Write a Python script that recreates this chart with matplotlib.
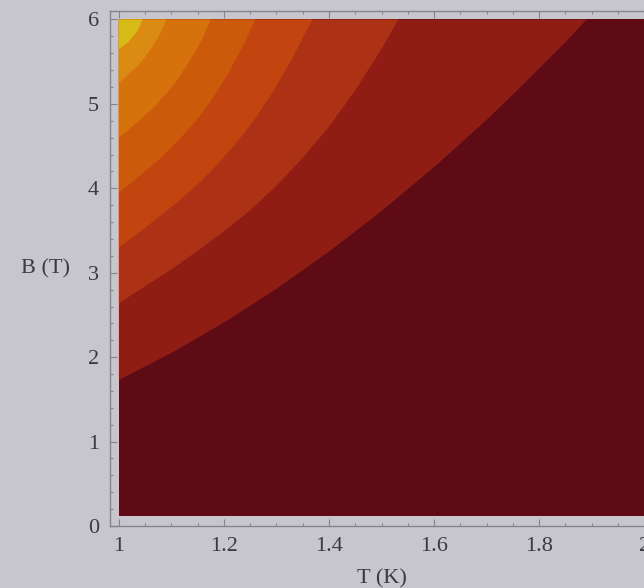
import matplotlib as mpl
mpl.use('Agg')
import matplotlib.pyplot as plt
from matplotlib.ticker import MultipleLocator

# contour boundaries, listed from the lowest level (bottom right) up to the
# top-left corner; each runs from the T = 1 edge up to the B = 6 edge
t_c1 = [1.00, 1.05, 1.10, 1.15, 1.20, 1.25, 1.30, 1.35, 1.40, 1.45,
        1.50, 1.55, 1.60, 1.65, 1.70, 1.75, 1.80, 1.85, 1.891]
b_c1 = [1.73, 1.89, 2.05, 2.23, 2.41, 2.61, 2.81, 3.03, 3.25, 3.49,
        3.73, 3.99, 4.25, 4.53, 4.81, 5.11, 5.42, 5.73, 6.00]

t_c2 = [1.00, 1.05, 1.10, 1.15, 1.20, 1.25, 1.30, 1.35, 1.40, 1.45, 1.50, 1.532]
b_c2 = [2.64, 2.84, 3.04, 3.26, 3.49, 3.74, 4.03, 4.36, 4.73, 5.16, 5.65, 6.00]

t_c3 = [1.000, 1.037, 1.074, 1.110, 1.147, 1.184, 1.221, 1.258, 1.294, 1.331, 1.368]
b_c3 = [3.30, 3.47, 3.65, 3.83, 4.03, 4.26, 4.52, 4.81, 5.15, 5.55, 6.00]

t_c4 = [1.000, 1.026, 1.052, 1.078, 1.104, 1.130, 1.156, 1.182, 1.208, 1.234, 1.260]
b_c4 = [3.95, 4.08, 4.21, 4.35, 4.51, 4.68, 4.87, 5.10, 5.36, 5.66, 6.00]

t_c5 = [1.000, 1.035, 1.070, 1.105, 1.140, 1.158, 1.175]
b_c5 = [4.60, 4.78, 4.98, 5.23, 5.56, 5.76, 6.00]

t_c6 = [1.000, 1.018, 1.036, 1.054, 1.072, 1.081, 1.090]
b_c6 = [5.25, 5.35, 5.45, 5.59, 5.76, 5.87, 6.00]

t_c7 = [1.000, 1.018, 1.036, 1.045]
b_c7 = [5.65, 5.73, 5.87, 6.00]

# band colours, darkest (lowest level) first
band_colors = ['#5e0b15', '#8f1d13', '#ad3114', '#c2450f', '#cc5a0b',
               '#d5720c', '#da8c12', '#d6bb16']

t_range = [1.0, 2.1]
b_range = [0.12, 6.0]
x_ticks = [1, 1.2, 1.4, 1.6, 1.8, 2]
x_ticklabels = ['1', '1.2', '1.4', '1.6', '1.8', '2']
y_ticks = [0, 1, 2, 3, 4, 5, 6]

bg = '#c8c6cd'
frame_col = '#85838c'
text_col = '#3b3a40'

plt.rcParams['font.family'] = ['Liberation Serif', 'DejaVu Serif']

fig = plt.figure(figsize=(6.44, 5.88), dpi=100, facecolor=bg)
ax = fig.add_axes([0.1708, 0.1054, 0.8432, 0.8767], facecolor=bg)

# lowest band covers the whole plotted region, the rest are stacked on top
ax.fill_between(t_range, b_range[0], b_range[1], color=band_colors[0], lw=0)
curves = [(t_c1, b_c1), (t_c2, b_c2), (t_c3, b_c3), (t_c4, b_c4),
          (t_c5, b_c5), (t_c6, b_c6), (t_c7, b_c7)]
for (ts, bs), col in zip(curves, band_colors[1:]):
    ax.fill(list(ts) + [t_range[0]], list(bs) + [b_range[1]],
            color=col, lw=0)

ax.set_xlim(0.983, 2.017)
ax.set_ylim(0, 6.106)

ax.set_xticks(x_ticks)
ax.set_xticklabels(x_ticklabels)
ax.set_yticks(y_ticks)
ax.xaxis.set_minor_locator(MultipleLocator(0.05))
ax.yaxis.set_minor_locator(MultipleLocator(0.2))
ax.tick_params(which='both', direction='in', top=True, right=True,
               color=frame_col, width=0.8)
ax.tick_params(which='major', length=5, labelsize=16, labelcolor=text_col, pad=8)
ax.tick_params(which='minor', length=2.5)

for sp in ax.spines.values():
    sp.set_color(frame_col)
    sp.set_linewidth(1.0)

ax.set_xlabel('T (K)', fontsize=16, color=text_col)
ax.xaxis.set_label_coords(0.5, -0.083)
ax.set_ylabel('B (T)', fontsize=16, color=text_col, rotation=0,
              ha='right', va='center')
ax.yaxis.set_label_coords(-0.074, 0.498)

fig.savefig('out.png', dpi=100, facecolor=bg)
